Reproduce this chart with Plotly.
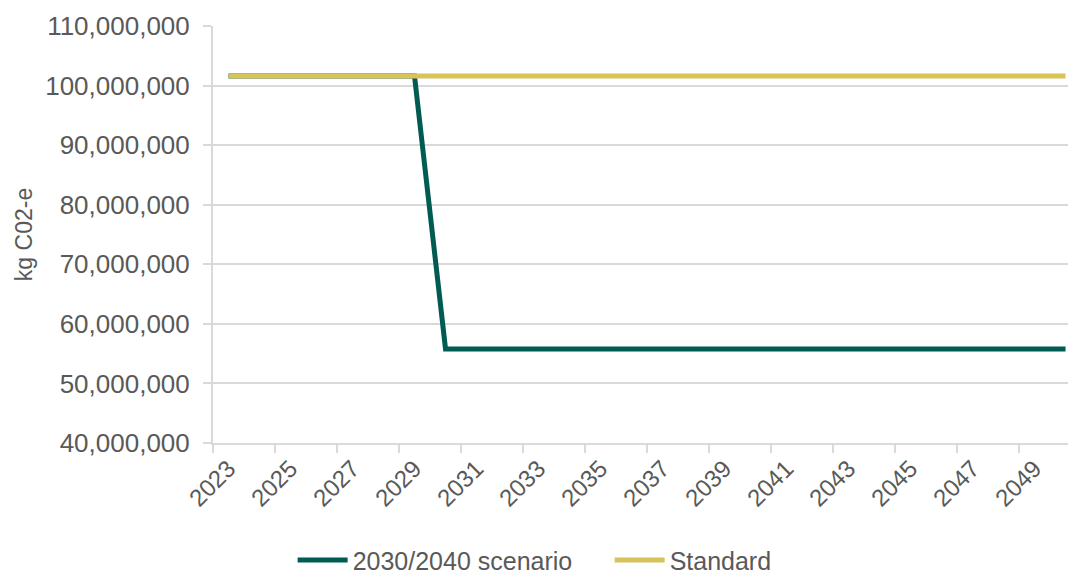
import plotly.graph_objects as go

years = list(range(2023, 2051))
scenario_2030_2040 = [101_600_000] * 7 + [55_800_000] * 21
standard = [101_600_000] * 28

y_ticks = [40_000_000, 50_000_000, 60_000_000, 70_000_000, 80_000_000,
           90_000_000, 100_000_000, 110_000_000]
x_label_years = list(range(2023, 2051, 2))

GREEN = "#005B52"
YELLOW = "#D8C25A"
TEXT = "#595959"
GRID = "#D9D9D9"
FONT = "Liberation Sans, Arial, sans-serif"

fig = go.Figure()
fig.add_trace(go.Scatter(x=years, y=scenario_2030_2040, mode="lines",
                         name="2030/2040 scenario",
                         line=dict(color=GREEN, width=5)))
fig.add_trace(go.Scatter(x=years, y=standard, mode="lines",
                         name="Standard",
                         line=dict(color=YELLOW, width=5)))

fig.update_layout(
    width=1068, height=574,
    margin=dict(l=213, r=0, t=26, b=131),
    paper_bgcolor="white", plot_bgcolor="white",
    font=dict(family=FONT, color=TEXT),
    legend=dict(orientation="h", xref="container", yref="container",
                x=0.274, xanchor="left", y=0.024, yanchor="middle",
                font=dict(size=25, color=TEXT), itemwidth=50,
                entrywidth=252,
                bgcolor="rgba(0,0,0,0)"),
    showlegend=True,
)

fig.update_xaxes(
    range=[2022.5, 2050.08],
    tickmode="array", tickvals=x_label_years,
    ticktext=[str(y) for y in x_label_years],
    tickangle=-45, tickfont=dict(size=24, color=TEXT),
    ticks="", showgrid=False, zeroline=False,
    showline=True, linecolor=GRID, linewidth=2,
    minor=dict(tick0=2022.5, dtick=2, ticks="outside", ticklen=8,
               tickcolor=GRID, tickwidth=2, showgrid=False),
)

fig.update_yaxes(
    range=[40_000_000, 110_000_000],
    tickmode="array", tickvals=y_ticks,
    ticktext=[f"{v:,}" for v in y_ticks],
    tickfont=dict(size=26, color=TEXT),
    ticks="outside", ticklen=8, tickcolor=GRID, tickwidth=2,
    ticklabelstandoff=8,
    showgrid=True, gridcolor=GRID, gridwidth=2, zeroline=False,
    showline=True, linecolor=GRID, linewidth=2,
    title=dict(text="kg C02-e", font=dict(size=23, color=TEXT), standoff=6),
)

fig.write_html("out.html")
